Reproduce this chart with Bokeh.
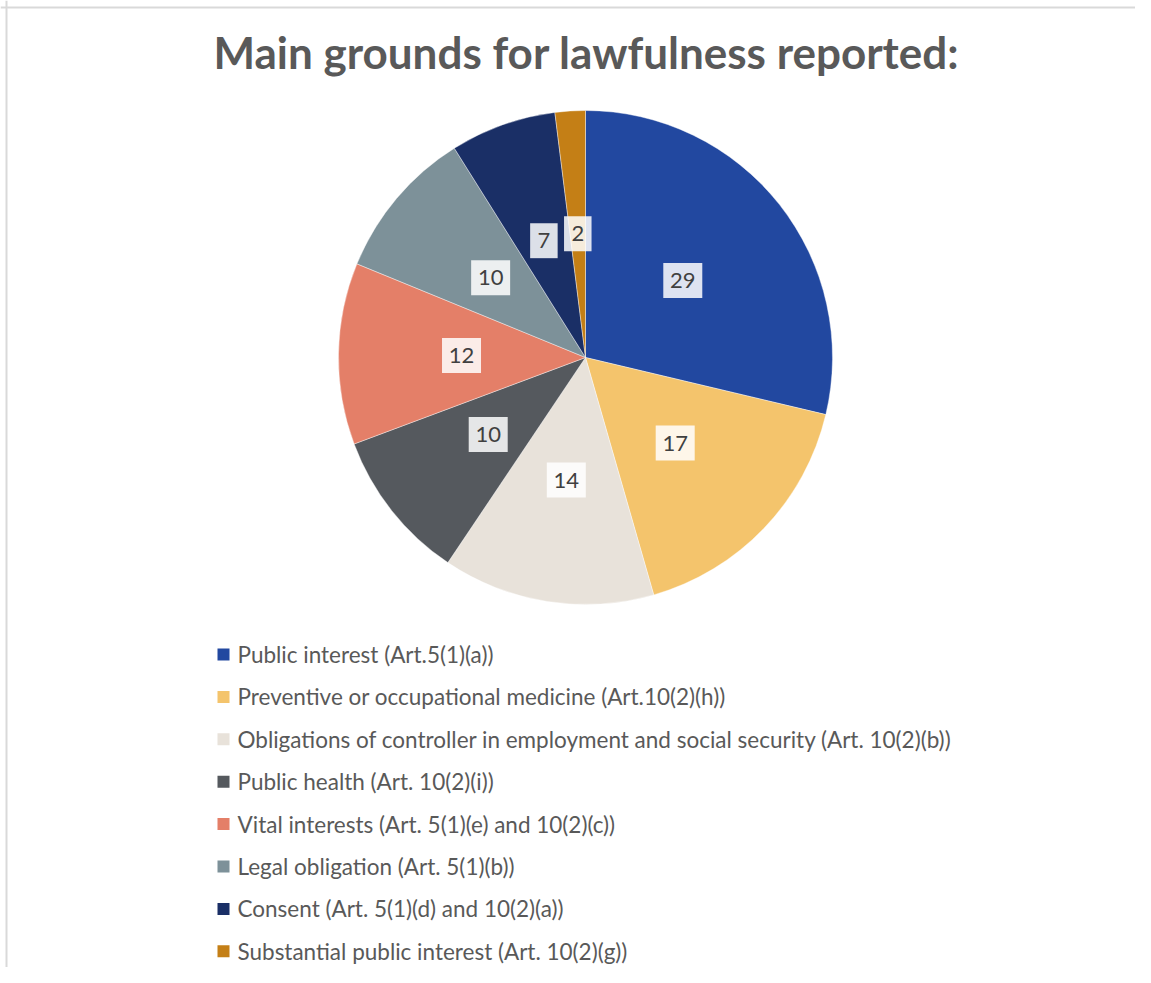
import numpy as np
from bokeh.plotting import figure
from bokeh.models import Range1d, ColumnDataSource, Span
from bokeh.core.properties import value
from bokeh.embed import file_html
from bokeh.resources import INLINE

title = "Main grounds for lawfulness reported:"
categories = [
    "Public interest (Art.5(1)(a))",
    "Preventive or occupational medicine (Art.10(2)(h))",
    "Obligations of controller in employment and social security (Art. 10(2)(b))",
    "Public health (Art. 10(2)(i))",
    "Vital interests (Art. 5(1)(e) and 10(2)(c))",
    "Legal obligation (Art. 5(1)(b))",
    "Consent (Art. 5(1)(d) and 10(2)(a))",
    "Substantial public interest (Art. 10(2)(g))",
]
values = [29, 17, 14, 10, 12, 10, 7, 2]
colors = ["#2248a0", "#f4c46c", "#e8e2da", "#55595e", "#e47f68", "#7d9199",
          "#1a2f66", "#c47f16"]

W, H = 1135, 967
p = figure(width=W, height=H, output_backend="svg", toolbar_location=None,
           x_range=Range1d(0, W), y_range=Range1d(0, H), min_border=0)
p.axis.visible = False
p.grid.visible = False
p.outline_line_color = None
p.background_fill_color = "white"
p.border_fill_color = "white"

# frame lines (top and left)
p.add_layout(Span(location=6, dimension="height", line_color="#d9d9d9", line_width=2))
p.add_layout(Span(location=H - 7, dimension="width", line_color="#d9d9d9", line_width=2))

cx, cy, R = 585, 610, 247
vals = np.array(values, dtype=float)
frac = vals / vals.sum()
cum_end = np.cumsum(frac) * 2 * np.pi
cum_start = cum_end - frac * 2 * np.pi
start = np.pi / 2 - cum_end
end = np.pi / 2 - cum_start
mid = np.pi / 2 - (cum_start + cum_end) / 2

src = ColumnDataSource(dict(start=start, end=end, color=colors, cat=categories))
p.wedge(x=cx, y=cy, radius=R, start_angle="start", end_angle="end",
        fill_color="color", line_color="white", line_width=0.4, source=src)

# data labels
lr = 124
lx = cx + lr * np.cos(mid)
ly = cy + lr * np.sin(mid)
labels = [str(v) for v in values]
bw = [16 + 11.5 * len(s) for s in labels]
lsrc = ColumnDataSource(dict(x=lx, y=ly, t=labels, w=bw))
p.rect(x="x", y="y", width="w", height=35, fill_color="white", fill_alpha=0.85,
       line_color=None, source=lsrc)
p.text(x="x", y="y", text="t", text_align="center", text_baseline="middle",
       text_font=value("Lato"), text_font_size="22px", text_color="#404040",
       source=lsrc)

# title
p.text(x=[586], y=[916], text=[title], text_align="center",
       text_baseline="middle", text_font=value("Lato"),
       text_font_style="bold", text_font_size="44px", text_color="#595959")

# legend
idx = np.arange(len(categories))
ly_leg = 313 - 42.4 * idx
legsrc = ColumnDataSource(dict(x=[223] * len(categories), tx=[237] * len(categories),
                               y=ly_leg, color=colors, cat=categories))
p.rect(x="x", y="y", width=12, height=12, fill_color="color", line_color=None,
       source=legsrc)
p.text(x="tx", y="y", text="cat", text_align="left", text_baseline="middle",
       text_font=value("Lato"), text_font_size="22.5px", text_color="#595959",
       source=legsrc)

open("out.html", "w").write(file_html(p, INLINE))
